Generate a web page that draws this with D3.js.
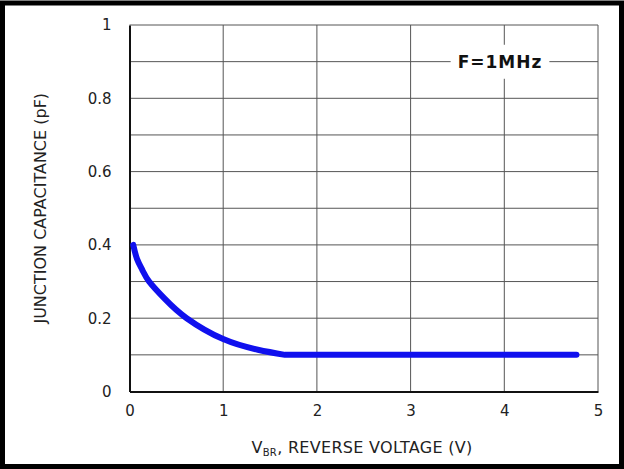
<!DOCTYPE html>
<html><head><meta charset="utf-8">
<script src="https://cdn.jsdelivr.net/npm/d3@7"></script>
<style>body{margin:0;background:#fff}svg{display:block}</style>
</head><body>
<script>
const voltage = [0.04, 0.08, 0.14, 0.21, 0.38, 0.61, 1.0, 1.37, 1.66, 4.77];
const capacitance = [0.40, 0.362, 0.33, 0.30, 0.252, 0.20, 0.143, 0.114, 0.10, 0.10];
const xTicks = [0, 1, 2, 3, 4, 5];
const yTicks = [0, 0.2, 0.4, 0.6, 0.8, 1];
const yGrid = [0.1, 0.2, 0.3, 0.4, 0.5, 0.6, 0.7, 0.8, 0.9, 1.0];
const annotation = "F=1MHz";

const W = 624, H = 469;
const svg = d3.select("body").append("svg").attr("width", W).attr("height", H);
svg.append("rect").attr("x", 2.5).attr("y", 3).attr("width", W - 5).attr("height", H - 5.5)
  .attr("fill", "#fff").attr("stroke", "#000").attr("stroke-width", 5);

const x = d3.scaleLinear().domain([0, 5]).range([129.5, 598]);
const y = d3.scaleLinear().domain([0, 1]).range([391.5, 25]);
const font = "Verdana, 'DejaVu Sans', sans-serif";

const g = svg.append("g");
g.selectAll(".vg").data(xTicks.slice(1)).join("line")
  .attr("x1", d => x(d)).attr("x2", d => x(d)).attr("y1", y(0)).attr("y2", y(1))
  .attr("stroke", "#555").attr("stroke-width", 1);
g.selectAll(".hg").data(yGrid).join("line")
  .attr("x1", x(0)).attr("x2", x(5)).attr("y1", d => y(d)).attr("y2", d => y(d))
  .attr("stroke", "#555").attr("stroke-width", 1);

// annotation with white background
const ann = svg.append("text").attr("x", 500).attr("y", y(0.9)).attr("dy", "0.36em")
  .attr("text-anchor", "middle").attr("font-family", font).attr("font-weight", "bold")
  .attr("font-size", 17).attr("letter-spacing", 1).attr("fill", "#111").text(annotation);
const bb = ann.node().getBBox();
svg.insert("rect", "text").attr("x", bb.x - 7).attr("y", bb.y - 7).attr("width", bb.width + 14).attr("height", bb.height + 14).attr("fill", "#fff");

// axes
const xAxis = d3.axisBottom(x).tickValues(xTicks).tickSize(0).tickPadding(14).tickFormat(d3.format("d"));
const gx = svg.append("g").attr("transform", `translate(0,${y(0)})`).call(xAxis);
gx.select(".domain").attr("stroke", "#111").attr("stroke-width", 2);
gx.selectAll("text").attr("font-family", font).attr("font-size", 15).attr("fill", "#222");

const yAxis = d3.axisLeft(y).tickValues(yTicks).tickSize(0).tickPadding(18).tickFormat(d => d === 0 || d === 1 ? d3.format("d")(d) : d3.format(".1f")(d));
const gy = svg.append("g").attr("transform", `translate(${x(0)},0)`).call(yAxis);
gy.select(".domain").attr("stroke", "#111").attr("stroke-width", 2);
gy.selectAll("text").attr("font-family", font).attr("font-size", 15).attr("fill", "#222");

// curve: smooth decay (natural spline) then flat plateau
const pts = voltage.map((v, i) => [v, capacitance[i]]);
const curvePts = pts.slice(0, -1);
const last = pts[pts.length - 1];
const dCurve = d3.line().x(d => x(d[0])).y(d => y(d[1])).curve(d3.curveNatural)(curvePts);
svg.append("path")
  .attr("d", dCurve + `L${x(last[0])},${y(last[1])}`)
  .attr("fill", "none").attr("stroke", "#1010ee").attr("stroke-width", 6)
  .attr("stroke-linecap", "round").attr("stroke-linejoin", "round");

// titles
const xt = svg.append("text").attr("x", 362).attr("y", 453).attr("text-anchor", "middle")
  .attr("font-family", font).attr("font-size", 16).attr("letter-spacing", 0.3).attr("fill", "#222");
xt.append("tspan").text("V");
xt.append("tspan").attr("font-size", 10).attr("dy", 3).text("BR");
xt.append("tspan").attr("dy", -3).text(", REVERSE VOLTAGE (V)");

svg.append("text").attr("transform", `translate(46,${(y(0)+y(1))/2}) rotate(-90)`)
  .attr("text-anchor", "middle").attr("font-family", font).attr("font-size", 16).attr("fill", "#222")
  .text("JUNCTION CAPACITANCE (pF)");
</script>
</body></html>
